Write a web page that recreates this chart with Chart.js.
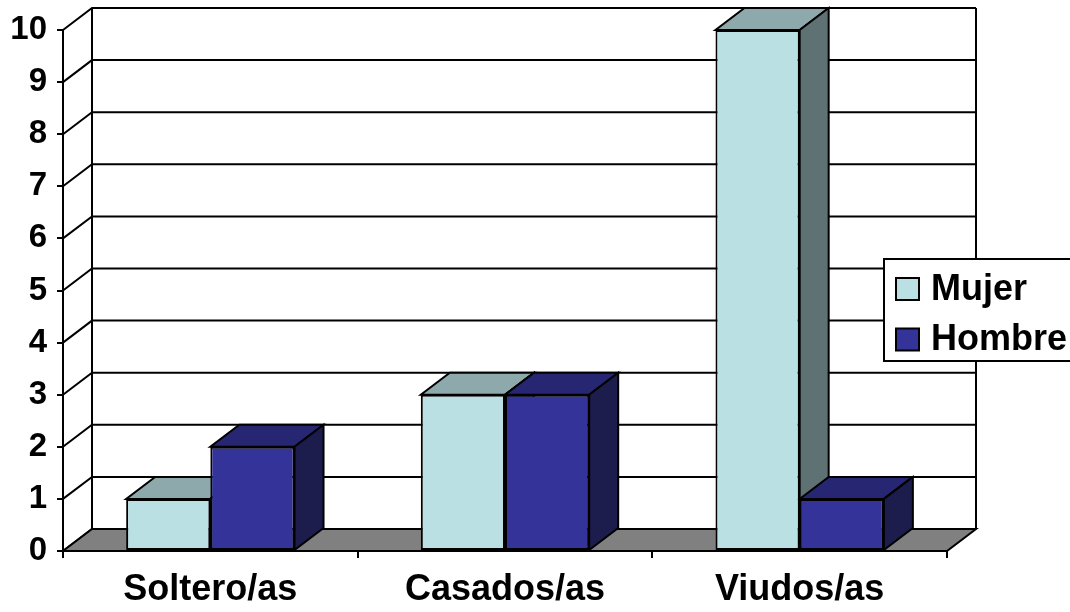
<!DOCTYPE html>
<html>
<head>
<meta charset="utf-8">
<script src="https://cdn.jsdelivr.net/npm/chart.js@4/dist/chart.umd.min.js"></script>
<style>
  html, body { margin: 0; padding: 0; background: #fff; }
  canvas { display: block; }
</style>
</head>
<body>
<canvas id="c" width="1070" height="612"></canvas>
<script>
// Data
const categories = ['Soltero/as', 'Casados/as', 'Viudos/as'];
const mujer = [1, 3, 10];
const hombre = [2, 3, 1];
const seriesNames = ['Mujer', 'Hombre'];
const yMin = 0;
const yMax = 10;
const yStep = 1;

// Face colours of each series' boxes: front, top, side
const mujerFaces = ['#BBE0E3', '#8DA9AB', '#5E7173'];
const hombreFaces = ['#333399', '#262673', '#1C1C4D'];

const FONT = '"Liberation Sans", Arial, Helvetica, sans-serif';
// Depth of the 3-D box (horizontal / vertical shift of the back plane)
const DX = 29, DY = -22;

const box3d = {
  id: 'box3d',
  beforeDatasetsDraw(chart) {
    const { ctx, chartArea: a, scales: { y } } = chart;
    ctx.save();
    ctx.lineWidth = 2;
    ctx.strokeStyle = '#000';
    ctx.lineJoin = 'miter';

    // Gridlines on the left side wall and the back wall
    y.ticks.forEach(t => {
      const py = y.getPixelForValue(t.value);
      ctx.beginPath();
      ctx.moveTo(a.left, py);
      ctx.lineTo(a.left + DX, py + DY);
      ctx.lineTo(a.right + DX, py + DY);
      ctx.stroke();
    });
    // Back wall edges
    ctx.beginPath();
    ctx.moveTo(a.left + DX, a.top + DY);
    ctx.lineTo(a.left + DX, a.bottom + DY);
    ctx.moveTo(a.right + DX, a.top + DY);
    ctx.lineTo(a.right + DX, a.bottom + DY);
    ctx.stroke();

    // Floor
    ctx.beginPath();
    ctx.moveTo(a.left, a.bottom);
    ctx.lineTo(a.right, a.bottom);
    ctx.lineTo(a.right + DX, a.bottom + DY);
    ctx.lineTo(a.left + DX, a.bottom + DY);
    ctx.closePath();
    ctx.fillStyle = '#808080';
    ctx.fill();
    ctx.stroke();

    // Top and side faces of every bar (fronts are drawn by Chart.js)
    chart.data.datasets.forEach((ds, i) => {
      const meta = chart.getDatasetMeta(i);
      meta.data.forEach(bar => {
        const { x, y: top, width, base } = bar.getProps(['x', 'y', 'width', 'base'], true);
        const l = x - width / 2, r = x + width / 2;
        ctx.beginPath();
        ctx.moveTo(l, top);
        ctx.lineTo(r, top);
        ctx.lineTo(r + DX, top + DY);
        ctx.lineTo(l + DX, top + DY);
        ctx.closePath();
        ctx.fillStyle = ds.faces[1];
        ctx.fill();
        ctx.stroke();

        ctx.beginPath();
        ctx.moveTo(r, top);
        ctx.lineTo(r + DX, top + DY);
        ctx.lineTo(r + DX, base + DY);
        ctx.lineTo(r, base);
        ctx.closePath();
        ctx.fillStyle = ds.faces[2];
        ctx.fill();
        ctx.stroke();
      });
    });
    ctx.restore();
  },
  afterDraw(chart) {
    // Legend box at the right
    const ctx = chart.ctx;
    ctx.save();
    ctx.lineWidth = 2;
    ctx.strokeStyle = '#000';
    ctx.fillStyle = '#fff';
    ctx.fillRect(884, 259, 200, 102);
    ctx.strokeRect(884, 259, 200, 102);
    ctx.font = 'bold 36px ' + FONT;
    ctx.textBaseline = 'middle';
    ctx.textAlign = 'left';
    chart.data.datasets.forEach((ds, i) => {
      const cy = 289 + i * 50.5;
      ctx.fillStyle = ds.faces[0];
      ctx.fillRect(896, cy - 11, 23, 22);
      ctx.strokeRect(896, cy - 11, 23, 22);
      ctx.fillStyle = '#000';
      ctx.fillText(ds.label, 931, cy + 1);
    });
    ctx.restore();
  }
};

const makeSet = (label, data, faces) => ({
  label,
  data,
  faces,
  backgroundColor: faces[0],
  borderColor: '#000',
  borderWidth: 2,
  borderSkipped: false,
  categoryPercentage: 2 / 3.5,
  barPercentage: 1
});

new Chart(document.getElementById('c'), {
  type: 'bar',
  data: {
    labels: categories,
    datasets: [
      makeSet(seriesNames[0], mujer, mujerFaces),
      makeSet(seriesNames[1], hombre, hombreFaces)
    ]
  },
  options: {
    responsive: false,
    animation: false,
    layout: { padding: { top: 30, right: 123, left: 0, bottom: 0 } },
    plugins: { legend: { display: false }, tooltip: { enabled: false } },
    scales: {
      x: {
        grid: { drawOnChartArea: false, drawTicks: true, tickLength: 7, color: '#000', lineWidth: 2, offset: true },
        border: { display: true, color: '#000', width: 2 },
        ticks: { color: '#000', padding: 10, maxRotation: 0, font: { family: FONT, size: 36, weight: 'bold' } },
        afterFit(s) { s.height = 61; }
      },
      y: {
        min: yMin,
        max: yMax,
        grid: { drawOnChartArea: false, drawTicks: true, tickLength: 6, color: '#000', lineWidth: 2 },
        border: { display: true, color: '#000', width: 2 },
        ticks: { stepSize: yStep, color: '#000', padding: 10, font: { family: FONT, size: 33, weight: 'bold' } },
        afterFit(s) { s.width = 63; }
      }
    }
  },
  plugins: [box3d]
});
</script>
</body>
</html>
